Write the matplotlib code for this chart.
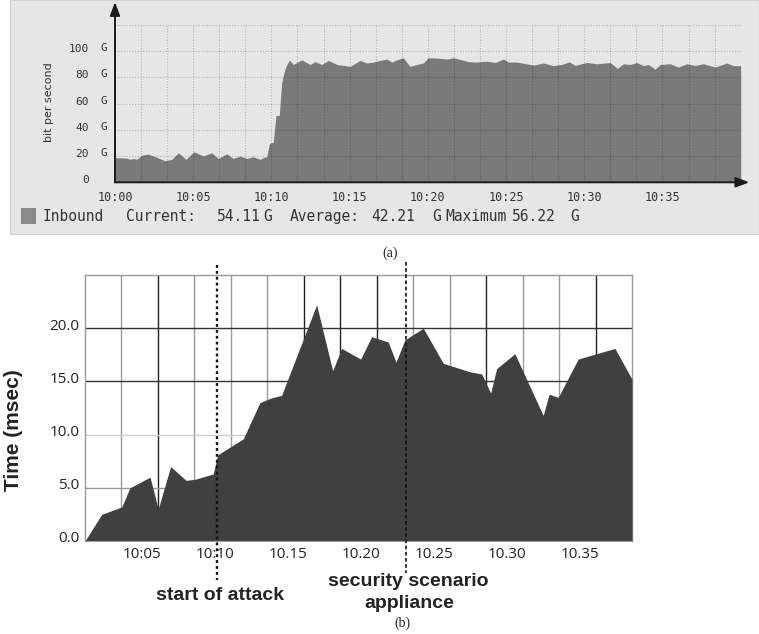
import numpy as np
import matplotlib
matplotlib.use("Agg")
import matplotlib.pyplot as plt
from matplotlib.patches import Rectangle
from matplotlib.lines import Line2D
from matplotlib.transforms import blended_transform_factory, ScaledTranslation

# ---------------- data ----------------
# (a) inbound traffic, minutes after 10:00 -> Gbit/s
traffic_min = [0.0, 0.75, 0.96, 1.15, 1.39, 1.71, 2.13, 2.56, 3.2, 3.63, 4.05, 4.54,
               5.05, 5.65, 6.18, 6.6, 7.14, 7.56, 7.99, 8.42, 8.84, 9.27, 9.59, 9.7,
               9.87, 10.12, 10.29, 10.5, 10.66, 10.87, 11.14, 11.4, 11.94, 12.47, 12.79,
               13.22, 13.64, 14.18, 14.71, 15.03, 15.66, 16.09, 16.52, 16.94, 17.37,
               17.69, 18.01, 18.43, 18.86, 19.29, 19.71, 20.03, 20.67, 21.21, 21.63,
               22.17, 22.59, 23.13, 23.77, 24.3, 24.83, 25.15, 25.68, 26.32, 26.75,
               27.38, 28.02, 28.56, 29.05, 29.41, 30.16, 30.8, 31.65, 32.12, 32.5,
               32.93, 33.36, 33.78, 34.1, 34.53, 34.85, 35.49, 36.02, 36.55, 37.08,
               37.62, 38.36, 39.11, 39.53, 40.0]
traffic_gbps = [18.7, 18.5, 17.5, 18.2, 17.5, 20.7, 21.5, 19.5, 16.4, 17.5, 22.5, 17.5,
                23.3, 20.0, 22.5, 18.2, 21.7, 18.2, 20.0, 18.2, 19.5, 17.5, 19.5, 19.0,
                29.6, 30.6, 51.0, 51.0, 76.4, 86.6, 93.4, 89.9, 93.4, 89.9, 92.0,
                89.9, 93.0, 89.9, 89.0, 88.4, 93.0, 91.0, 91.7, 93.0, 94.0,
                91.7, 93.4, 95.0, 88.4, 89.9, 91.0, 95.0, 94.7, 94.0, 95.0,
                93.4, 92.0, 91.7, 92.4, 91.4, 94.0, 91.7, 91.7, 90.4, 89.4,
                91.0, 89.0, 89.9, 91.9, 89.2, 91.4, 90.4, 91.4, 86.9, 90.4,
                89.9, 91.4, 89.0, 89.9, 86.3, 89.9, 90.4, 87.9, 90.4, 89.2,
                90.4, 87.9, 91.0, 89.0, 89.0]
traffic_xticks = [0, 5, 10, 15, 20, 25, 30, 35]
traffic_xlabels = ["10:00", "10:05", "10:10", "10:15", "10:20", "10:25", "10:30", "10:35"]
traffic_yticks = [0, 20, 40, 60, 80, 100]
traffic_ylabels = ["0", "20", "40", "60", "80", "100"]
legend_parts = ["Inbound", "Current:", "54.11", "G", "Average:", "42.21", "G",
                "Maximum", "56.22", "G"]

# (b) response time, minutes after 10:00 -> msec
resp_min = [1.1, 2.24, 3.62, 4.18, 5.56, 6.12, 6.97, 8.02, 8.64, 9.89, 10.2, 11.95,
            13.09, 13.78, 14.58, 16.98, 18.08, 18.69, 20.0, 20.75, 21.89, 22.42, 23.03,
            24.29, 25.66, 26.8, 27.49, 28.29, 28.91, 29.32, 30.57, 32.51, 32.92, 33.54,
            34.91, 37.43, 38.6]
resp_ms = [0.0, 2.5, 3.2, 5.0, 6.0, 3.0, 7.0, 5.7, 5.8, 6.3, 8.1, 9.6,
           13.0, 13.4, 13.7, 22.2, 16.0, 18.1, 17.1, 19.2, 18.7, 16.8, 18.9,
           20.0, 16.7, 16.2, 15.9, 15.7, 13.9, 16.2, 17.6, 11.8, 13.8, 13.5,
           17.1, 18.1, 15.2]
resp_xticks = [5, 10, 15, 20, 25, 30, 35]
resp_xlabels = ["10:05", "10:10", "10.15", "10.20", "10.25", "10.30", "10.35"]
resp_yticks = [0, 5, 10, 15, 20]
resp_ylabels = ["0.0", "5.0", "10.0", "15.0", "20.0"]
attack_start = 10.13
appliance_on = 23.08

# ---------------- figure ----------------
W, H = 759, 634
fig = plt.figure(figsize=(W / 100, H / 100), dpi=100)
fig.patch.set_facecolor("white")


def fx(px):
    return px / W


def fy(py):
    return 1 - py / H


MONO = "DejaVu Sans Mono"
TXT = "#333333"

# grey panel behind the traffic graph
fig.patches.append(Rectangle((fx(10), fy(234)), fx(759) - fx(10), fy(0) - fy(234),
                             transform=fig.transFigure, facecolor="#e6e6e6",
                             edgecolor="#d2d2d2", lw=0.8, zorder=-10))

ax1 = fig.add_axes([fx(115), fy(182.3), fx(740.7) - fx(115), fy(25) - fy(182.3)])
ax1.set_facecolor("none")
ax1.set_xlim(0, 40)
ax1.set_ylim(0, 120)
ax1.fill_between(traffic_min, traffic_gbps, 0, color="#7a7a7a", lw=0, zorder=2)
for gx in np.arange(5 / 3, 40.01, 5 / 3):
    ax1.axvline(gx, color="black", alpha=0.22, lw=0.8, ls=(0, (1, 1.5)), zorder=3)
for gy in [20, 40, 60, 80, 100, 120]:
    ax1.axhline(gy, color="black", alpha=0.22, lw=0.8, ls=(0, (1, 1.5)), zorder=3)
for s in ax1.spines.values():
    s.set_visible(False)
ax1.annotate("", xy=(40.55, 0), xytext=(0, 0), annotation_clip=False,
             arrowprops=dict(arrowstyle="-|>,head_length=0.8,head_width=0.3",
                             color="#1a1a1a", lw=1.4, shrinkA=0, shrinkB=0), zorder=5)
ax1.annotate("", xy=(0, 137.5), xytext=(0, 0), annotation_clip=False,
             arrowprops=dict(arrowstyle="-|>,head_length=0.8,head_width=0.3",
                             color="#1a1a1a", lw=1.4, shrinkA=0, shrinkB=0), zorder=5)
ax1.set_xticks(traffic_xticks)
ax1.set_xticklabels(traffic_xlabels, family=MONO, fontsize=8.5, color=TXT)
ax1.set_yticks(traffic_yticks)
ax1.set_yticklabels(traffic_ylabels, family=MONO, fontsize=8, color=TXT)
ax1.tick_params(axis="x", length=0, pad=6)
ax1.tick_params(axis="y", length=0, pad=19)
for lab in ax1.get_yticklabels():
    lab.set_transform(lab.get_transform() + ScaledTranslation(0, 3 / 100, fig.dpi_scale_trans))
gtr = blended_transform_factory(fig.transFigure, ax1.transData)
for v in traffic_yticks[1:]:
    t = ax1.text(fx(100.5), v, "G", family=MONO, fontsize=8, color=TXT,
                 ha="left", va="center", clip_on=False)
    t.set_transform(gtr + ScaledTranslation(0, 3 / 100, fig.dpi_scale_trans))
fig.text(fx(49), fy(102), "bit per second", rotation=90, fontsize=8, color=TXT,
         ha="center", va="center", family="DejaVu Sans")

# legend line under the traffic graph
fig.patches.append(Rectangle((fx(20.7), fy(224)), fx(36) - fx(20.7), fy(208) - fy(224),
                             transform=fig.transFigure, facecolor="#8a8a8a",
                             edgecolor="none", zorder=1))
for part, px in zip(legend_parts, [43, 126, 217, 263, 290, 371, 432, 445, 512, 570]):
    fig.text(fx(px), fy(216.7), part, family=MONO, fontsize=10.5, color=TXT,
             ha="left", va="center")

fig.text(fx(390), fy(253), "(a)", family="Liberation Serif", fontsize=10,
         ha="center", va="center", color="#222222")

# ---------------- response-time graph ----------------
ax2 = fig.add_axes([fx(85), fy(541), fx(632) - fx(85), fy(275) - fy(541)])
ax2.set_xlim(1.1, 38.6)
ax2.set_ylim(0, 25)
ax2.set_facecolor("white")
dark_cols = {2, 6, 7, 8, 11, 14}
for k in range(1, 15):
    gx = 1.1 + k * 2.5
    ax2.axvline(gx, color="#222222" if k in dark_cols else "#999999", lw=1.0, zorder=1)
for gy, col in zip([5, 10, 15, 20], ["#999999", "#d0d0d0", "#333333", "#333333"]):
    ax2.axhline(gy, color=col, lw=1.0, zorder=1)
ax2.fill_between(resp_min, resp_ms, 0, color="#404040", lw=0, zorder=3)
for side in ["left", "top", "right"]:
    ax2.spines[side].set_color("#999999")
    ax2.spines[side].set_linewidth(1.0)
ax2.spines["bottom"].set_visible(False)
ax2.set_xticks(resp_xticks)
ax2.set_xticklabels(resp_xlabels, family="Open Sans", fontsize=11, color="#222222")
ax2.set_yticks(resp_yticks)
ax2.set_yticklabels(resp_ylabels, family="Open Sans", fontsize=11, color="#222222")
ax2.tick_params(axis="x", length=0, pad=4)
ax2.tick_params(axis="y", length=0, pad=4)
for lab in ax2.get_yticklabels():
    lab.set_transform(lab.get_transform() + ScaledTranslation(0, 4 / 100, fig.dpi_scale_trans))

fig.text(fx(14), fy(430), "Time (msec)", rotation=90, family="Liberation Sans",
         fontweight="bold", fontsize=15, color="#222222", ha="center", va="center")

# event markers
vtr = blended_transform_factory(ax2.transData, fig.transFigure)
fig.add_artist(Line2D([attack_start, attack_start], [fy(265), fy(580)], transform=vtr,
                      color="#111111", lw=1.7, ls=(0, (1.2, 1.3))))
fig.add_artist(Line2D([appliance_on, appliance_on], [fy(262), fy(573)], transform=vtr,
                      color="#111111", lw=1.2, ls=(0, (2.2, 1.5))))

fig.text(fx(220.5), fy(595), "start of attack", family="Liberation Sans",
         fontweight="bold", fontsize=14, color="#222222", ha="center", va="center")
fig.text(fx(408.5), fy(582), "security scenario", family="Liberation Sans",
         fontweight="bold", fontsize=14, color="#222222", ha="center", va="center")
fig.text(fx(409), fy(603), "appliance", family="Liberation Sans",
         fontweight="bold", fontsize=14, color="#222222", ha="center", va="center")
fig.text(fx(402), fy(623), "(b)", family="Liberation Serif", fontsize=10,
         ha="center", va="center", color="#222222")

fig.savefig("out.png", dpi=100)
